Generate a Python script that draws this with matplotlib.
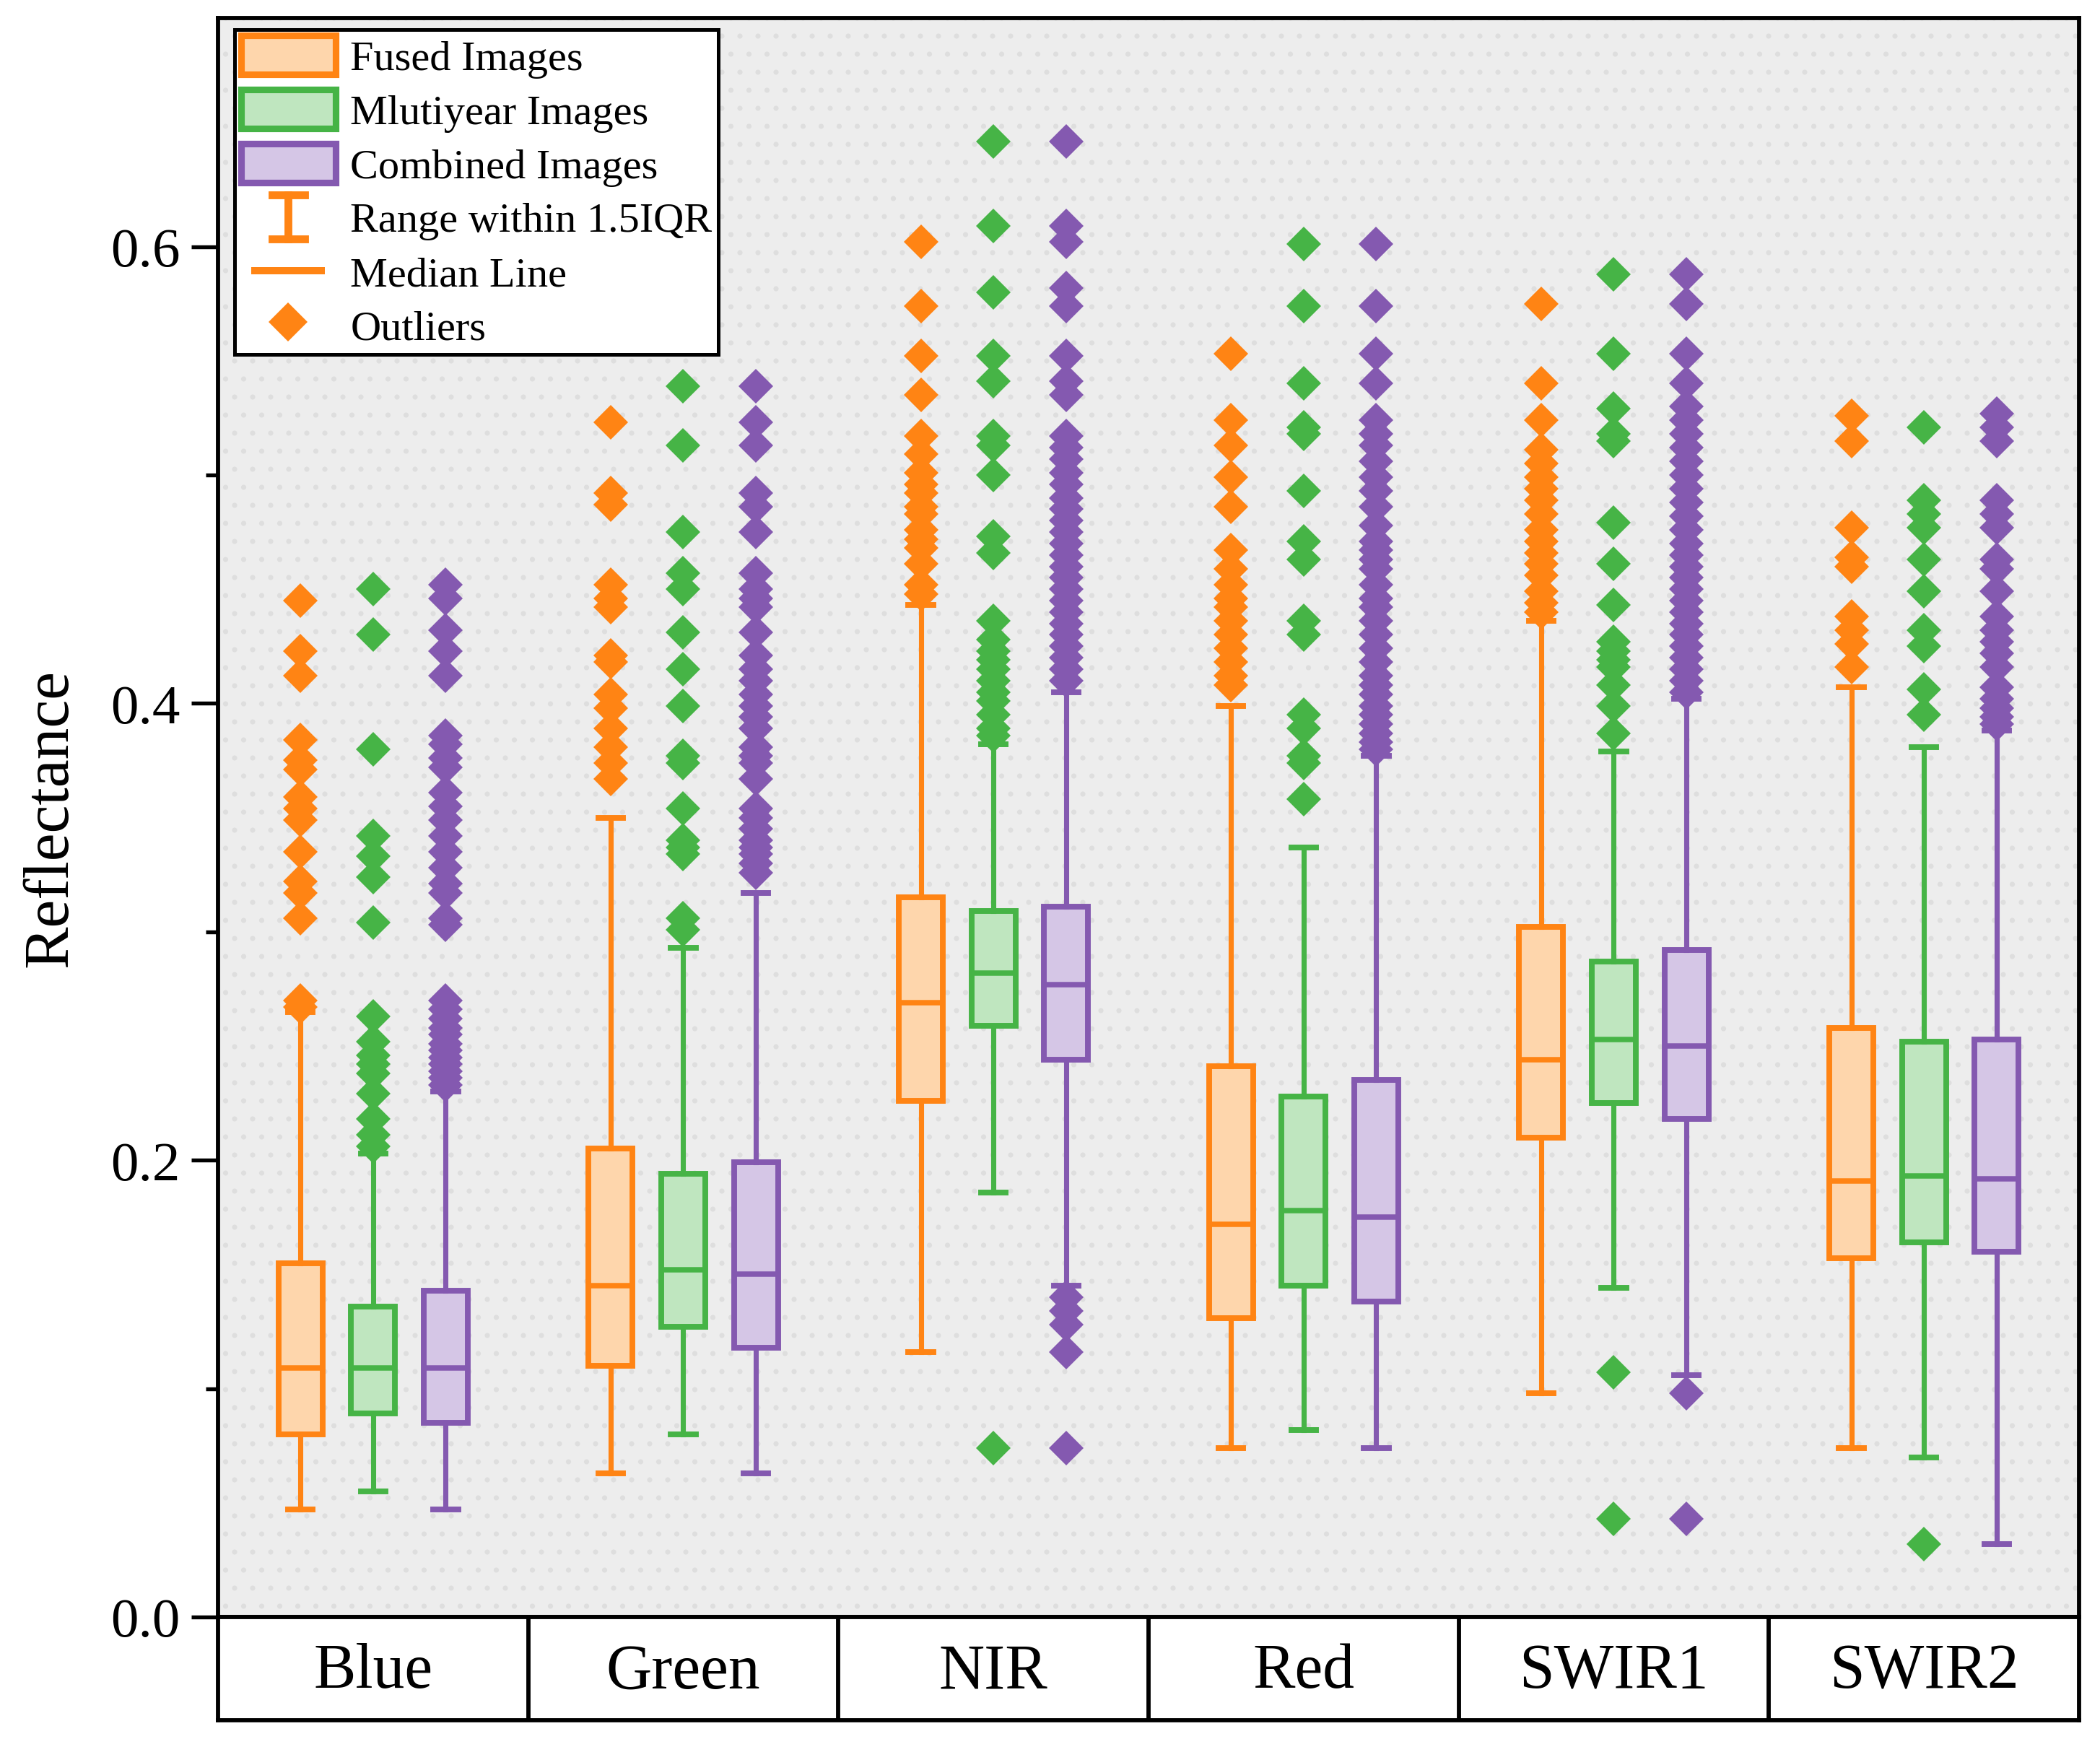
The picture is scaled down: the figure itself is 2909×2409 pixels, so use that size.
import matplotlib
matplotlib.use("Agg")
import matplotlib.pyplot as plt
from matplotlib.legend_handler import HandlerBase
from matplotlib.lines import Line2D
from matplotlib.patches import Patch, Rectangle

plt.rcParams['font.family'] = ['Liberation Serif', 'DejaVu Serif']
plt.rcParams['hatch.linewidth'] = 0.5

# data
# ------------------------------------------------------------------------------------------------------------------
bands = ['Blue', 'Green', 'NIR', 'Red', 'SWIR1', 'SWIR2']
series = ['Fused Images', 'Mlutiyear Images', 'Combined Images']

fused_low = [0.047, 0.063, 0.116, 0.074, 0.098, 0.074]
fused_q1 = [0.080, 0.110, 0.226, 0.131, 0.210, 0.157]
fused_med = [0.109, 0.145, 0.269, 0.172, 0.244, 0.191]
fused_q3 = [0.155, 0.205, 0.315, 0.241, 0.302, 0.258]
fused_high = [0.265, 0.350, 0.443, 0.399, 0.436, 0.407]
fused_out = [
    [0.445, 0.423, 0.412, 0.384, 0.375, 0.371, 0.359, 0.354, 0.349, 0.335, 0.322, 0.317, 0.306, 0.270, 0.267],
    [0.523, 0.492, 0.487, 0.452, 0.446, 0.442, 0.421, 0.418, 0.404, 0.398, 0.389, 0.381, 0.374, 0.367],
    [0.602, 0.574, 0.552, 0.535, 0.517, 0.509, 0.501, 0.496, 0.492, 0.486, 0.483, 0.476, 0.472, 0.468,
     0.461, 0.452, 0.448],
    [0.553, 0.524, 0.513, 0.499, 0.486, 0.467, 0.459, 0.452, 0.446, 0.442, 0.436, 0.430, 0.424, 0.418,
     0.412, 0.408],
    [0.575, 0.540, 0.524, 0.511, 0.505, 0.499, 0.494, 0.489, 0.483, 0.476, 0.471, 0.466, 0.461, 0.456,
     0.449, 0.444, 0.440],
    [0.526, 0.515, 0.477, 0.464, 0.460, 0.438, 0.432, 0.426, 0.416],
]

multi_low = [0.055, 0.080, 0.186, 0.082, 0.144, 0.070]
multi_q1 = [0.089, 0.127, 0.259, 0.145, 0.225, 0.164]
multi_med = [0.109, 0.152, 0.282, 0.178, 0.253, 0.193]
multi_q3 = [0.136, 0.194, 0.309, 0.228, 0.287, 0.252]
multi_high = [0.203, 0.293, 0.382, 0.337, 0.379, 0.381]
multi_out = [
    [0.450, 0.430, 0.380, 0.342, 0.333, 0.324, 0.304, 0.263, 0.252, 0.246, 0.242, 0.238, 0.229, 0.218,
     0.211, 0.206],
    [0.539, 0.513, 0.475, 0.457, 0.450, 0.431, 0.415, 0.399, 0.377, 0.374, 0.354, 0.340, 0.337, 0.334,
     0.306, 0.301],
    [0.646, 0.609, 0.580, 0.552, 0.541, 0.517, 0.513, 0.500, 0.473, 0.466, 0.436, 0.428, 0.423, 0.419,
     0.415, 0.410, 0.405, 0.401, 0.395, 0.389, 0.386, 0.074],
    [0.601, 0.574, 0.540, 0.521, 0.518, 0.493, 0.471, 0.463, 0.436, 0.430, 0.395, 0.389, 0.377, 0.374, 0.358],
    [0.588, 0.553, 0.529, 0.518, 0.515, 0.479, 0.461, 0.443, 0.427, 0.423, 0.419, 0.416, 0.408, 0.399,
     0.387, 0.107, 0.043],
    [0.521, 0.489, 0.483, 0.477, 0.463, 0.449, 0.432, 0.425, 0.406, 0.395, 0.032],
]

comb_low = [0.047, 0.063, 0.145, 0.074, 0.106, 0.032]
comb_q1 = [0.085, 0.118, 0.244, 0.138, 0.218, 0.160]
comb_med = [0.109, 0.150, 0.277, 0.175, 0.250, 0.192]
comb_q3 = [0.143, 0.199, 0.311, 0.235, 0.292, 0.253]
comb_high = [0.230, 0.317, 0.405, 0.377, 0.402, 0.388]
comb_out = [
    [0.452, 0.446, 0.432, 0.423, 0.412, 0.386, 0.382, 0.376, 0.372, 0.361, 0.355, 0.349, 0.342, 0.335,
     0.328, 0.321, 0.317, 0.306, 0.303, 0.270, 0.266, 0.262, 0.258, 0.255, 0.251, 0.248, 0.245, 0.242,
     0.239, 0.236, 0.233],
    [0.539, 0.523, 0.513, 0.492, 0.486, 0.475, 0.457, 0.450, 0.446, 0.442, 0.431, 0.421, 0.415, 0.410,
     0.404, 0.399, 0.394, 0.389, 0.381, 0.377, 0.374, 0.367, 0.354, 0.350, 0.345, 0.340, 0.337, 0.334,
     0.330, 0.326],
    [0.646, 0.609, 0.602, 0.582, 0.574, 0.552, 0.541, 0.535, 0.517, 0.512, 0.507, 0.501, 0.496, 0.490,
     0.485, 0.480, 0.475, 0.470, 0.465, 0.460, 0.455, 0.450, 0.445, 0.440, 0.435, 0.430, 0.425, 0.420,
     0.415, 0.410, 0.140, 0.134, 0.128, 0.116, 0.074],
    [0.601, 0.574, 0.553, 0.540, 0.524, 0.518, 0.513, 0.506, 0.499, 0.493, 0.486, 0.478, 0.471, 0.467,
     0.463, 0.459, 0.452, 0.446, 0.442, 0.436, 0.430, 0.424, 0.418, 0.412, 0.408, 0.404, 0.399, 0.395,
     0.391, 0.387, 0.383, 0.380],
    [0.588, 0.575, 0.553, 0.540, 0.530, 0.524, 0.518, 0.512, 0.506, 0.500, 0.494, 0.488, 0.482, 0.476,
     0.470, 0.465, 0.460, 0.455, 0.450, 0.445, 0.440, 0.435, 0.430, 0.425, 0.420, 0.415, 0.410, 0.405,
     0.098, 0.043],
    [0.527, 0.521, 0.515, 0.489, 0.483, 0.477, 0.463, 0.459, 0.449, 0.438, 0.432, 0.427, 0.422, 0.416,
     0.407, 0.402, 0.398, 0.394, 0.391],
]

edge_colors = ['#FF8414', '#46B446', '#8459B0']
fill_colors = ['#FED6AC', '#BFE6BF', '#D5C6E6']
offsets = [-0.234, 0.0, 0.234]


class RangeHandler(HandlerBase):
    def create_artists(self, legend, orig_handle, xdescent, ydescent, width, height, fontsize, trans):
        x0, y0 = -xdescent, -ydescent
        cx = x0 + width / 2
        cw = width * 0.17
        y1, y2 = y0 - 0.06 * height, y0 + 1.06 * height
        kw = dict(color=orig_handle.get_color(), lw=2.6, transform=trans)
        return [Line2D([cx, cx], [y1, y2], **kw),
                Line2D([cx - cw, cx + cw], [y2, y2], **kw),
                Line2D([cx - cw, cx + cw], [y1, y1], **kw)]


class MedianHandler(HandlerBase):
    def create_artists(self, legend, orig_handle, xdescent, ydescent, width, height, fontsize, trans):
        x0, y0 = -xdescent, -ydescent
        return [Line2D([x0 + 0.15 * width, x0 + 0.85 * width], [y0 + height / 2] * 2,
                       color=orig_handle.get_color(), lw=2.4, transform=trans)]


# plot
# ------------------------------------------------------------------------------------------------------------------
fig = plt.figure(figsize=(9.697, 8.033), dpi=300)
left, right, top, bottom, tbottom = 0.1038, 0.990, 0.9892, 0.0701, 0.0108
ax = fig.add_axes([left, bottom, right - left, top - bottom])
tab = fig.add_axes([left, tbottom, right - left, bottom - tbottom])

ax.set_facecolor('#ededed')
ax.add_patch(Rectangle((0, 0), 1, 1, transform=ax.transAxes, facecolor='none',
                       edgecolor='#dedede', hatch='..', lw=0, zorder=0))

groups = [(fused_low, fused_q1, fused_med, fused_q3, fused_high, fused_out),
          (multi_low, multi_q1, multi_med, multi_q3, multi_high, multi_out),
          (comb_low, comb_q1, comb_med, comb_q3, comb_high, comb_out)]

for k, (lo, q1, med, q3, hi, out) in enumerate(groups):
    stats = []
    for i in range(len(bands)):
        stats.append(dict(whislo=lo[i], q1=q1[i], med=med[i], q3=q3[i], whishi=hi[i], fliers=out[i]))
    pos = [i + 1 + offsets[k] for i in range(len(bands))]
    ec = edge_colors[k]
    ax.bxp(stats, positions=pos, widths=0.142, capwidths=0.08, patch_artist=True, manage_ticks=False,
           boxprops=dict(facecolor=fill_colors[k], edgecolor=ec, lw=1.9),
           whiskerprops=dict(color=ec, lw=1.7),
           capprops=dict(color=ec, lw=1.9),
           medianprops=dict(color=ec, lw=1.8),
           flierprops=dict(marker='D', markersize=8, markerfacecolor=ec, markeredgecolor='none',
                           linestyle='none'))

ax.set_xlim(0.5, len(bands) + 0.5)
ax.set_ylim(0, 0.7)
ax.set_xticks([])
ax.set_yticks([0.0, 0.2, 0.4, 0.6])
ax.set_yticklabels(['0.0', '0.2', '0.4', '0.6'])
ax.set_yticks([0.1, 0.3, 0.5], minor=True)
ax.tick_params(axis='y', which='major', length=9, width=1.3, labelsize=18.5, pad=3.5)
ax.tick_params(axis='y', which='minor', length=4, width=1.3)
for s in ax.spines.values():
    s.set_linewidth(1.4)
ax.set_ylabel('Reflectance', fontsize=21, labelpad=10)

tab.set_xlim(0.5, len(bands) + 0.5)
tab.set_ylim(0, 1)
tab.set_xticks([])
tab.set_yticks([])
for s in tab.spines.values():
    s.set_linewidth(1.4)
for i, b in enumerate(bands):
    tab.text(i + 1, 0.47, b, ha='center', va='center', fontsize=21)
    if i > 0:
        tab.axvline(i + 0.5, color='black', lw=1.4)

range_handle = Line2D([], [], color=edge_colors[0])
median_handle = Line2D([], [], color=edge_colors[0])
handles = [Patch(facecolor=fill_colors[k], edgecolor=edge_colors[k], lw=2.2) for k in range(3)]
handles += [range_handle, median_handle,
            Line2D([], [], marker='D', markersize=9, color=edge_colors[0], markeredgecolor='none',
                   linestyle='none')]
labels = series + ['Range within 1.5IQR', 'Median Line', 'Outliers']
leg = ax.legend(handles, labels, loc='upper left', bbox_to_anchor=(0.0089, 0.993), fontsize=14,
                frameon=True, fancybox=False, edgecolor='black', framealpha=1, borderpad=0.15,
                labelspacing=0.27, handlelength=2.25, handleheight=1.05, handletextpad=0.35,
                borderaxespad=0,
                handler_map={range_handle: RangeHandler(), median_handle: MedianHandler()})
leg.get_frame().set_linewidth(1.2)

fig.savefig('out.png', dpi=300)
